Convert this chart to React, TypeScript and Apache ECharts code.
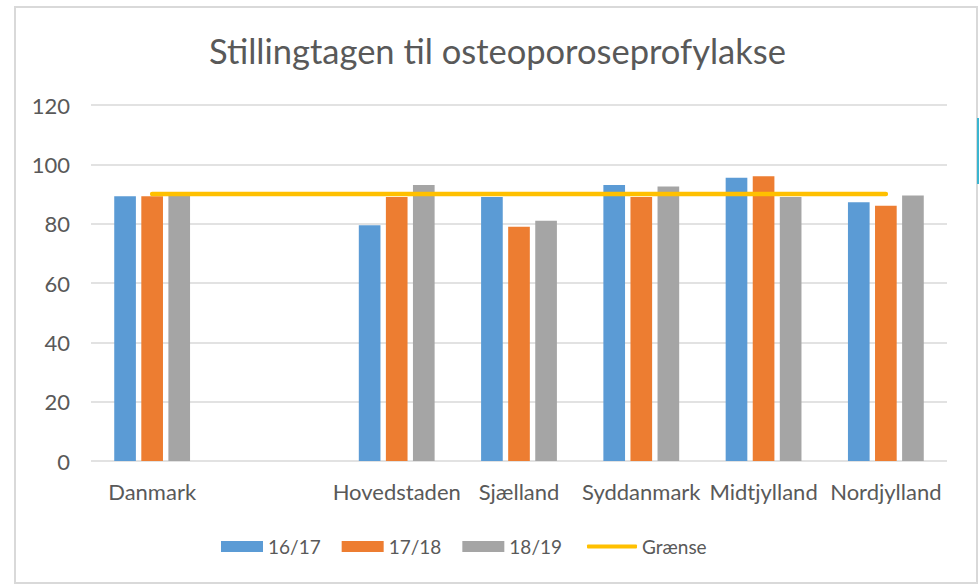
import React, { useEffect, useRef } from "react";
import * as echarts from "echarts";

const categories = ["Danmark", "", "Hovedstaden", "Sjælland", "Syddanmark", "Midtjylland", "Nordjylland"];
const s1617 = [89.2, null, 79.5, 89, 93, 95.5, 87.2];
const s1718 = [89.2, null, 89, 79, 89, 96, 86];
const s1819 = [89.5, null, 93, 81, 92.5, 89, 89.5];
const graense = [90, 90, 90, 90, 90, 90, 90];
const yTicks = { min: 0, max: 120, interval: 20 };

const FONT = "Lato";
const TXT = "#595959";

export default function App() {
  const ref = useRef<HTMLDivElement>(null);
  useEffect(() => {
    const chart = echarts.init(ref.current!, null, { renderer: "svg" });
    chart.setOption({
      animation: false,
      backgroundColor: "#ffffff",
      textStyle: { fontFamily: FONT, color: TXT },
      title: {
        text: "Stillingtagen til osteoporoseprofylakse",
        left: 209,
        top: 33,
        padding: 0,
        textStyle: { fontFamily: FONT, fontSize: 34.5, fontWeight: "normal", color: TXT },
      },
      graphic: [
        {
          type: "rect",
          shape: { x: 15, y: 7, width: 962, height: 576 },
          style: { fill: "none", stroke: "#d9d9d9", lineWidth: 2 },
          silent: true,
        },
        {
          type: "line",
          shape: { x1: 978, y1: 118, x2: 978, y2: 184 },
          style: { stroke: "#3bb5d0", lineWidth: 2 },
          silent: true,
        },
      ],
      grid: { left: 91, right: 32, top: 105, bottom: 123, containLabel: false },
      xAxis: {
        type: "category",
        data: categories,
        axisLine: { show: false },
        axisTick: { show: false },
        axisLabel: { color: TXT, fontFamily: FONT, fontSize: 22, margin: 19, interval: 0 },
      },
      yAxis: {
        type: "value",
        min: yTicks.min,
        max: yTicks.max,
        interval: yTicks.interval,
        axisLine: { show: false },
        axisTick: { show: false },
        axisLabel: { color: TXT, fontFamily: FONT, fontSize: 22, margin: 21 },
        splitLine: { lineStyle: { color: "#d9d9d9", width: 1.5 } },
      },
      legend: [
        {
          left: 221,
          top: 537,
          padding: 0,
          itemWidth: 42,
          itemHeight: 11,
          itemGap: 21,
          icon: "rect",
          textStyle: { color: TXT, fontFamily: FONT, fontSize: 19 },
          data: ["16/17", "17/18", "18/19"],
        },
        {
          left: 587,
          top: 537,
          padding: 0,
          itemWidth: 50,
          itemHeight: 4,
          icon: "roundRect",
          textStyle: { color: TXT, fontFamily: FONT, fontSize: 19 },
          data: ["Grænse"],
        },
      ],
      series: [
        { name: "16/17", type: "bar", data: s1617, itemStyle: { color: "#5B9BD5" }, barGap: "25%", barCategoryGap: "38%" },
        { name: "17/18", type: "bar", data: s1718, itemStyle: { color: "#ED7D31" } },
        { name: "18/19", type: "bar", data: s1819, itemStyle: { color: "#A5A5A5" } },
        {
          name: "Grænse",
          type: "line",
          data: graense,
          symbol: "none",
          itemStyle: { color: "#FFC000" },
          lineStyle: { color: "#FFC000", width: 4.5, cap: "round" },
        },
      ],
    });
    return () => chart.dispose();
  }, []);
  return <div ref={ref} style={{ position: "fixed", left: 0, top: 0, width: 979, height: 584 }} />;
}
